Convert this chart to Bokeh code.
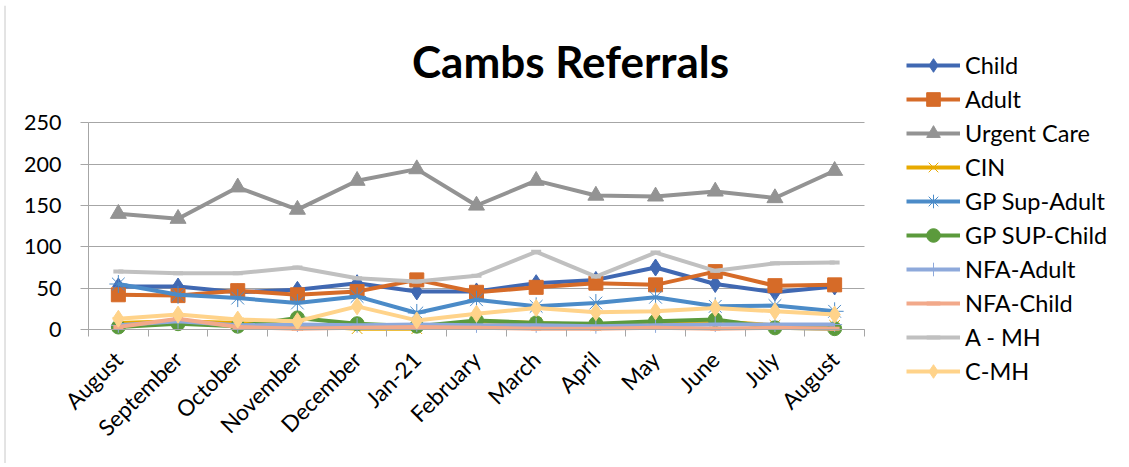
from bokeh.plotting import figure
from bokeh.models import FixedTicker, Legend, LegendItem, Label, Range1d
from bokeh.embed import file_html
from bokeh.resources import INLINE

months = ["August", "September", "October", "November", "December", "Jan-21",
          "February", "March", "April", "May", "June", "July", "August"]

child = [52, 52, 45, 48, 56, 46, 46, 56, 60, 75, 55, 45, 52]
adult = [42, 41, 47, 42, 46, 60, 45, 51, 56, 54, 70, 53, 54]
urgent_care = [140, 134, 172, 145, 180, 194, 150, 180, 162, 161, 167, 159, 192]
cin = [8, 10, 8, 5, 1, 1, 10, 8, 5, 8, 10, 5, 5]
gp_sup_adult = [55, 42, 38, 32, 40, 20, 36, 28, 32, 39, 28, 29, 22]
gp_sup_child = [3, 7, 4, 14, 7, 4, 11, 8, 7, 10, 12, 2, 1]
nfa_adult = [5, 10, 5, 6, 5, 6, 5, 5, 4, 5, 6, 6, 6]
nfa_child = [3, 13, 3, 1, 2, 3, 2, 1, 1, 2, 1, 2, 1]
a_mh = [70, 68, 68, 75, 62, 58, 65, 94, 64, 93, 71, 80, 81]
c_mh = [13, 18, 12, 10, 28, 11, 19, 26, 21, 22, 26, 22, 18]
y_ticks = [0, 50, 100, 150, 200, 250]

series = [
    ("Child", child, "#4068B2", "diamond", 17, None),
    ("Adult", adult, "#D66B28", "square", 14, None),
    ("Urgent Care", urgent_care, "#939393", "triangle", 16, None),
    ("CIN", cin, "#E8AA00", "x", 15, 1),
    ("GP Sup-Adult", gp_sup_adult, "#4B8BC8", "asterisk", 18, 1),
    ("GP SUP-Child", gp_sup_child, "#5B9A3C", "circle", 14, None),
    ("NFA-Adult", nfa_adult, "#8EA9DB", "cross", 15, 1),
    ("NFA-Child", nfa_child, "#F2A98A", "dash", 10, 4),
    ("A - MH", a_mh, "#C0C0C0", "dash", 10, 4),
    ("C-MH", c_mh, "#FFD38A", "diamond", 17, None),
]

FONT = "Lato"
xs = list(range(len(months)))

W, H = 1125, 463
AXIS_X = 88           # page x of the category axis start
TOP = 5
PX_X = 59.69          # px per category
PX_Y = 206.7 / 250    # px per unit
ZERO_Y = 329          # page y of value 0
x_start = -0.5 - AXIS_X / PX_X
x_end = -0.5 + (W - AXIS_X) / PX_X
y_start = -(H - ZERO_Y) / PX_Y
y_end = (ZERO_Y - TOP) / PX_Y

p = figure(width=W, height=H, output_backend="svg", toolbar_location=None,
           x_range=Range1d(x_start, x_end), y_range=Range1d(y_start, y_end),
           min_border_left=0, min_border_right=0, min_border_top=TOP,
           min_border_bottom=0)
p.outline_line_color = None
p.background_fill_color = None

# thin chart-area border on the left edge
bx = x_start + 4.5 / PX_X
p.segment(x0=[bx], y0=[y_start], x1=[bx], y1=[y_end], line_color="#C8C8C8",
          line_width=1)

items = []
for name, vals, color, marker, size, lw in series:
    r_line = p.line(xs, vals, line_color=color, line_width=4)
    r_pt = p.scatter(xs, vals, marker=marker, size=size, fill_color=color,
                     line_color=color, line_width=(1 if lw is None else lw))
    items.append(LegendItem(label=name, renderers=[r_line, r_pt]))

# x axis drawn at value 0 inside the frame
p.xaxis.fixed_location = 0
p.xaxis.bounds = (-0.5, 12.5)
p.xaxis.ticker = FixedTicker(ticks=xs, minor_ticks=[i - 0.5 for i in range(14)])
p.xaxis.major_label_overrides = {i: m for i, m in enumerate(months)}
p.xaxis.major_label_orientation = 0.785398
p.xaxis.major_tick_out = 0
p.xaxis.major_tick_in = 0
p.xaxis.minor_tick_out = 7
p.xaxis.minor_tick_in = 0
p.xaxis.minor_tick_line_color = "#A6A6A6"
p.xaxis.axis_line_color = "#A6A6A6"
p.xaxis.major_label_text_font = FONT
p.xaxis.major_label_text_font_size = "22.5px"
p.xaxis.major_label_text_color = "#000000"
p.xaxis.major_label_standoff = 19

# y axis drawn at the first category boundary inside the frame
p.yaxis.fixed_location = -0.5
p.yaxis.bounds = (0, 250)
p.yaxis.ticker = FixedTicker(ticks=y_ticks, minor_ticks=[])
p.yaxis.major_tick_out = 8
p.yaxis.major_tick_in = 0
p.yaxis.major_tick_line_color = "#A6A6A6"
p.yaxis.minor_tick_line_color = None
p.yaxis.axis_line_color = "#A6A6A6"
p.yaxis.major_label_text_font = FONT
p.yaxis.major_label_text_font_size = "21.5px"
p.yaxis.major_label_text_color = "#000000"
p.yaxis.major_label_standoff = 19

p.xgrid.grid_line_color = None
g = p.ygrid[0]
if "cross_bounds" in g.properties():
    g.cross_bounds = (-0.5, 12.5)
    g.grid_line_color = "#A6A6A6"
    g.grid_line_width = 1
else:
    g.grid_line_color = None
    p.segment(x0=[-0.5] * len(y_ticks), y0=y_ticks, x1=[12.5] * len(y_ticks),
              y1=y_ticks, line_color="#A6A6A6", line_width=1, level="underlay")

title = Label(x=570, y=H - 60, x_units="screen", y_units="screen",
              text="Cambs Referrals", text_font=FONT,
              text_font_size="44px", text_font_style="bold",
              text_align="center", text_baseline="middle", text_color="#000000")
p.add_layout(title)

legend = Legend(items=items, location=(906, H - 388), orientation="vertical",
                glyph_width=54, glyph_height=34, label_height=34, spacing=0,
                label_standoff=5, padding=0, margin=0,
                label_text_font=FONT, label_text_font_size="23.5px",
                label_text_color="#000000",
                border_line_alpha=0, background_fill_alpha=0)
p.add_layout(legend)

open("out.html", "w").write(file_html(p, INLINE))
